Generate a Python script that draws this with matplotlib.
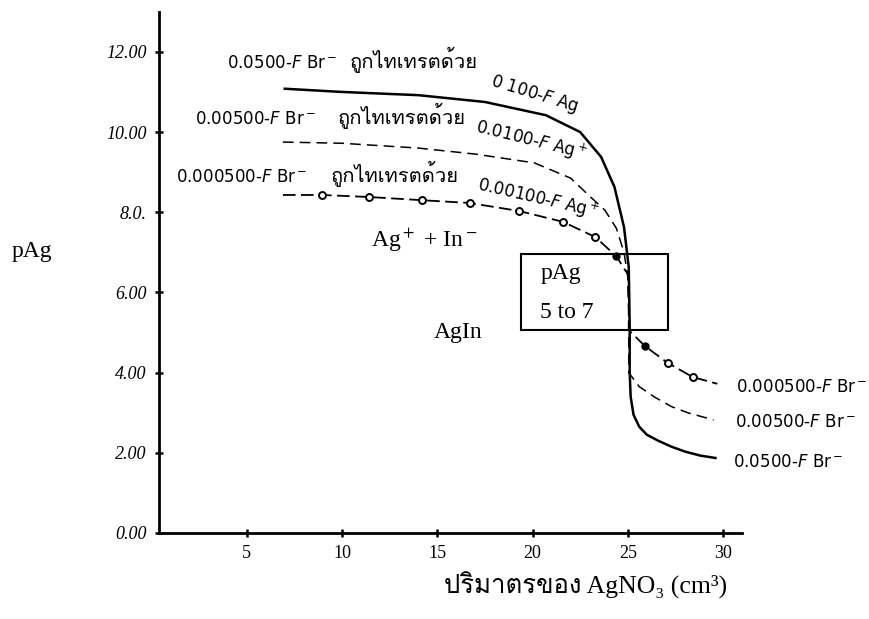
import numpy as np
import matplotlib
matplotlib.use('Agg')
import matplotlib.pyplot as plt
import matplotlib.patches as mpatches
import matplotlib.font_manager as fm
from matplotlib.ft2font import FT2Font

# find some installed font that has Thai glyphs
thai_font = None
for f in fm.fontManager.ttflist:
    try:
        if 0x0E01 in FT2Font(f.fname).get_charmap():
            thai_font = f.name
            break
    except Exception:
        pass

def fam(first):
    out = [first]
    if thai_font:
        out.append(thai_font)
    out.append('DejaVu Sans')
    return out

plt.rcParams['mathtext.fontset'] = 'dejavusans'

# 0.0500 F Br- titrated with 0.100 F Ag+ (solid)
solid_x = [7.0, 10.0, 14.0, 17.5, 20.7, 22.5, 23.6, 24.3, 24.8, 25.05, 25.1, 25.1,
           25.15, 25.3, 25.6, 26.0, 26.6, 27.3, 28.0, 28.8, 29.6]
solid_y = [11.08, 11.0, 10.92, 10.75, 10.42, 10.0, 9.38, 8.63, 7.63, 6.63, 5.14, 4.0,
           3.4, 2.95, 2.65, 2.45, 2.3, 2.15, 2.03, 1.93, 1.87]

# 0.00500 F Br- titrated with 0.0100 F Ag+ (dashed)
dash_x = [6.9, 10.0, 14.0, 17.0, 20.1, 22.0, 23.0, 23.8, 24.4, 24.8, 25.0, 25.05,
          25.05, 25.6, 26.4, 27.3, 28.2, 29.5]
dash_y = [9.75, 9.72, 9.6, 9.45, 9.23, 8.85, 8.4, 8.05, 7.6, 7.0, 6.4, 5.5,
          4.0, 3.65, 3.39, 3.15, 2.99, 2.82]

# 0.000500 F Br- titrated with 0.00100 F Ag+ (line with circles)
circ_x = [6.9, 8.95, 11.4, 14.2, 16.7, 19.3, 21.6, 23.3, 24.4, 25.0, 25.05, 25.05,
          25.9, 27.1, 28.4, 29.7]
circ_y = [8.43, 8.43, 8.38, 8.30, 8.23, 8.03, 7.76, 7.38, 6.9, 6.45, 5.8, 5.06,
          4.66, 4.24, 3.89, 3.72]
open_x = [8.95, 11.4, 14.2, 16.7, 19.3, 21.6, 23.3, 27.1, 28.4]
open_y = [8.43, 8.38, 8.30, 8.23, 8.03, 7.76, 7.38, 4.24, 3.89]
dot_x = [24.4, 25.9]
dot_y = [6.9, 4.66]

# indicator range box
box_x = [19.4, 27.1]
box_y = [5.06, 6.96]

xticks = [5, 10, 15, 20, 25, 30]
yticks = [0, 2, 4, 6, 8, 10, 12]
ytick_labels = ['0.00', '2.00', '4.00', '6.00', '8.0.', '10.00', '12.00']

thai_titr = 'ถูกไทเทรตด้วย'
conc_br = ['0.0500-$F$ Br$^-$', '0.00500-$F$ Br$^-$', '0.000500-$F$ Br$^-$']
conc_ag = ['0 100-$F$ Ag', '0.0100-$F$ Ag$^+$', '0.00100-$F$ Ag$^+$']

fig = plt.figure(figsize=(8.69, 6.19), dpi=100)
ax = fig.add_axes([0.183, 0.139, 0.671, 0.842])

ax.plot(solid_x, solid_y, '-', color='black', lw=1.8)
ax.plot(dash_x, dash_y, color='black', lw=1.1, dashes=(7, 4))
ax.plot(circ_x, circ_y, color='black', lw=1.3, dashes=(7, 3))
ax.plot(open_x, open_y, 'o', color='black', mfc='white', mew=1.4, ms=5)
ax.plot(dot_x, dot_y, 'o', color='black', ms=5)

ax.add_patch(mpatches.Rectangle((box_x[0], box_y[0]), box_x[1] - box_x[0],
                                box_y[1] - box_y[0], fill=False,
                                edgecolor='black', lw=1.5))

ax.set_xlim(0.4, 31)
ax.set_ylim(0, 13)
ax.spines['top'].set_visible(False)
ax.spines['right'].set_visible(False)
ax.spines['left'].set_linewidth(2)
ax.spines['bottom'].set_linewidth(2)
ax.set_xticks(xticks)
ax.set_xticklabels([str(t) for t in xticks], family='Liberation Serif', fontsize=13)
ax.set_yticks(yticks)
ax.set_yticklabels(ytick_labels, family='Liberation Serif', fontsize=13,
                   style='italic')
ax.tick_params(direction='inout', length=6, width=1.8, pad=6)

# titration labels, top left
br_pos = [(3.95, 11.6), (2.3, 10.2), (1.3, 8.75)]
thai_pos = [(10.4, 11.6), (9.8, 10.2), (9.4, 8.75)]
ag_pos = [(20.1, 10.95), (19.9, 9.78), (20.3, 8.35)]
ag_rot = [-17, -14, -13]
for i in range(3):
    ax.text(br_pos[i][0], br_pos[i][1], conc_br[i], fontsize=12,
            family='DejaVu Sans', ha='left', va='baseline', clip_on=False)
    ax.text(thai_pos[i][0], thai_pos[i][1], thai_titr, fontsize=14.5,
            family=fam('DejaVu Sans'), ha='left', va='baseline')
    ax.text(ag_pos[i][0], ag_pos[i][1], conc_ag[i], fontsize=12,
            family='DejaVu Sans', ha='center', va='center',
            rotation=ag_rot[i], rotation_mode='anchor')

# end labels, right side
end_pos = [(30.5, 1.77), (30.6, 2.77), (30.7, 3.64)]
for i in range(3):
    ax.text(end_pos[i][0], end_pos[i][1], conc_br[i], fontsize=12,
            family='DejaVu Sans', ha='left', va='center', clip_on=False)

ax.text(14.3, 7.3, 'Ag$^+$ + In$^-$', fontsize=17, family='Liberation Serif',
        ha='center', va='center', math_fontfamily='stix')
ax.text(16.1, 5.0, 'AgIn', fontsize=17, family='Liberation Serif',
        ha='center', va='center')
ax.text(20.4, 6.48, 'pAg', fontsize=17, family='Liberation Serif',
        ha='left', va='center')
ax.text(20.4, 5.51, '5 to 7', fontsize=17, family='Liberation Serif',
        ha='left', va='center')

fig.text(0.013, 0.593, 'pAg', fontsize=17, family='Liberation Serif',
         ha='left', va='center')
fig.text(0.674, 0.055, 'ปริมาตรของ AgNO₃ (cm³)', fontsize=18.5,
         family=['Liberation Serif'] + ([thai_font] if thai_font else []) + ['DejaVu Serif'],
         ha='center', va='center')

fig.savefig('out.png', dpi=100)
